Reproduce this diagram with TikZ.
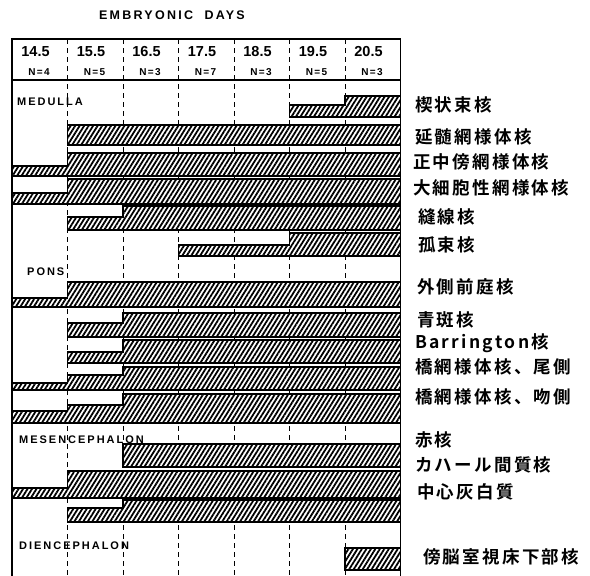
\documentclass[tikz,border=0pt]{standalone}
\usepackage{fontspec}
\setmainfont{Liberation Sans}
\newfontfamily\jpfont[BoldFont={Noto Sans CJK JP Bold}]{Noto Sans CJK JP}
\usetikzlibrary{patterns.meta}

\begin{document}
\begin{tikzpicture}[x=1pt,y=-1pt,
        bar/.style={line width=1.5pt,preaction={fill=white},
            pattern={Lines[angle=58,distance=3.8pt,line width=1.8pt]}},
        grid/.style={line width=0.9pt,dash pattern=on 5pt off 4pt},
        frame/.style={line width=1.5pt},
        nuc/.style={anchor=west,inner sep=0pt,
            font=\jpfont\bfseries\fontsize{17.5}{17.5}\selectfont\addfontfeature{LetterSpace=13}},
        region/.style={anchor=west,inner sep=0pt,
            font=\bfseries\fontsize{11}{11}\selectfont\addfontfeature{LetterSpace=18}},
        day/.style={inner sep=0pt,font=\bfseries\fontsize{14.5}{14.5}\selectfont},
        cnt/.style={inner sep=0pt,font=\bfseries\fontsize{10}{10}\selectfont\addfontfeature{LetterSpace=14}}]
    \useasboundingbox (0,0) rectangle (590,576);

    \node[inner sep=0pt,font=\bfseries\fontsize{12.5}{12.5}\selectfont\addfontfeature{LetterSpace=18}]
        (title) at (172,15) {EMBRYONIC\ \ DAYS};

    % day columns
    \foreach \i in {1,...,6}
        \draw[grid] ({12+55.5*\i},39) -- ({12+55.5*\i},576);
    \foreach \d/\n [count=\i from 0] in {14.5/4,15.5/5,16.5/3,17.5/7,18.5/3,19.5/5,20.5/3} {
        \node[day] (d\i) at ({35.5+55.5*\i},52) {\d};
        \node[cnt] (n\i) at ({39+55.5*\i},72) {N=\n};
    }
    \draw[frame] (12,576) -- (12,39) -- (400.5,39) -- (400.5,576);
    \draw[frame] (12,80) -- (400.5,80);

    % medulla
    \draw[bar] (289.5,117) -- (289.5,105) -- (345,105) -- (345,96) -- (400.5,96) -- (400.5,117) -- cycle;
    \draw[bar] (67.5,145) rectangle (400.5,125);
    \draw[bar] (12,176) -- (12,166) -- (67.5,166) -- (67.5,153) -- (400.5,153) -- (400.5,176) -- cycle;
    \draw[bar] (12,204) -- (12,193) -- (67.5,193) -- (67.5,179) -- (400.5,179) -- (400.5,204) -- cycle;
    \draw[bar] (67.5,230) -- (67.5,217) -- (123,217) -- (123,206) -- (400.5,206) -- (400.5,230) -- cycle;
    \draw[bar] (178.5,256) -- (178.5,245) -- (289.5,245) -- (289.5,233) -- (400.5,233) -- (400.5,256) -- cycle;

    % pons
    \draw[bar] (12,307) -- (12,298) -- (67.5,298) -- (67.5,282) -- (400.5,282) -- (400.5,307) -- cycle;
    \draw[bar] (67.5,337) -- (67.5,323) -- (123,323) -- (123,313) -- (400.5,313) -- (400.5,337) -- cycle;
    \draw[bar] (67.5,363) -- (67.5,352) -- (123,352) -- (123,340) -- (400.5,340) -- (400.5,363) -- cycle;
    \draw[bar] (12,390) -- (12,383) -- (67.5,383) -- (67.5,375) -- (123,375) -- (123,367) -- (400.5,367) -- (400.5,390) -- cycle;
    \draw[bar] (12,423) -- (12,411) -- (67.5,411) -- (67.5,405) -- (123,405) -- (123,394) -- (400.5,394) -- (400.5,423) -- cycle;

    % mesencephalon
    \draw[bar] (123,467) rectangle (400.5,444);
    \draw[bar] (12,498) -- (12,488) -- (67.5,488) -- (67.5,471) -- (400.5,471) -- (400.5,498) -- cycle;
    \draw[bar] (67.5,522) -- (67.5,508) -- (123,508) -- (123,500) -- (400.5,500) -- (400.5,522) -- cycle;

    % diencephalon
    \draw[bar] (345,570) rectangle (400.5,548);

    \node[region] (med) at (17,102) {MEDULLA};
    \node[region] (pons) at (27,272) {PONS};
    \node[region] (mes) at (19,440) {MESENCEPHALON};
    \node[region] (die) at (19,546) {DIENCEPHALON};

    \node[nuc] (cun) at (415,105) {楔状束核};
    \node[nuc] (mdrf) at (415,137) {延髄網様体核};
    \node[nuc] (pgrn) at (413,162) {正中傍網様体核};
    \node[nuc] (gi) at (413,188) {大細胞性網様体核};
    \node[nuc] (rn) at (418,217) {縫線核};
    \node[nuc] (sol) at (418,245) {孤束核};
    \node[nuc] (lve) at (417,287) {外側前庭核};
    \node[nuc] (lc) at (417,320) {青斑核};
    \node[nuc] (bar) at (415,343) {Barrington核};
    \node[nuc] (pnc) at (415,367) {橋網様体核、尾側};
    \node[nuc] (pno) at (415,397) {橋網様体核、吻側};
    \node[nuc] (red) at (415,440) {赤核};
    \node[nuc] (inc) at (415,465) {カハール間質核};
    \node[nuc] (cg) at (417,492) {中心灰白質};
    \node[nuc] (pvh) at (423,557) {傍脳室視床下部核};
\end{tikzpicture}
\end{document}
